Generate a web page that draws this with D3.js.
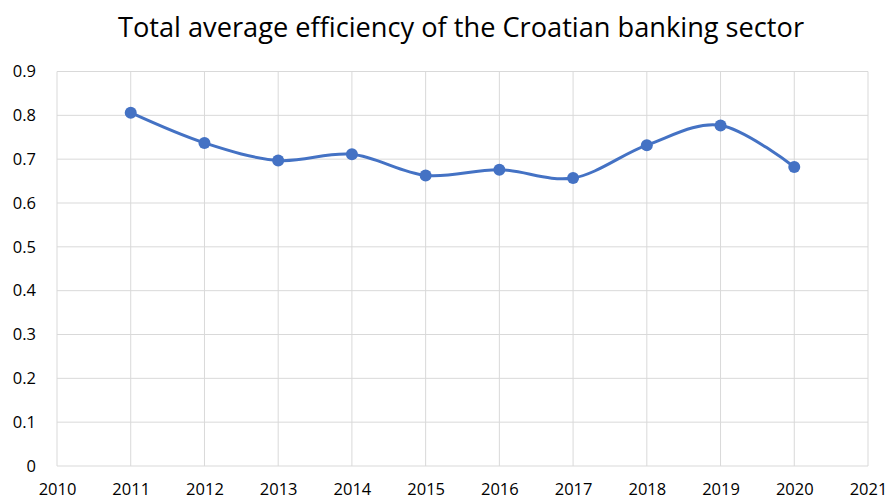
<!DOCTYPE html>
<html>
<head>
<meta charset="utf-8">
<script src="https://cdn.jsdelivr.net/npm/d3@7"></script>
<style>
  body { margin: 0; background: #fff; }
  svg { display: block; font-family: "Open Sans", "Noto Sans", sans-serif; }
</style>
</head>
<body>
<svg id="chart" width="894" height="503"></svg>
<script>
// data
const years = [2011, 2012, 2013, 2014, 2015, 2016, 2017, 2018, 2019, 2020];
const efficiency = [0.806, 0.737, 0.697, 0.711, 0.663, 0.676, 0.657, 0.732, 0.777, 0.682];
const xTicks = d3.range(2010, 2022);
const yTicks = [0, 0.1, 0.2, 0.3, 0.4, 0.5, 0.6, 0.7, 0.8, 0.9];

const svg = d3.select("#chart");
const margin = { left: 57, right: 26, top: 71.5, bottom: 37 };
const W = 894, H = 503;

const x = d3.scaleLinear().domain([2010, 2021]).range([margin.left, W - margin.right]);
const y = d3.scaleLinear().domain([0, 0.9]).range([H - margin.bottom, margin.top]);

// title
svg.append("text")
  .attr("x", W / 2 + 14).attr("y", 37)
  .attr("text-anchor", "middle")
  .attr("font-size", 27.2)
  .attr("fill", "#000")
  .text("Total average efficiency of the Croatian banking sector");

// gridlines
svg.append("g").selectAll("line.h").data(yTicks).enter().append("line")
  .attr("x1", x(2010)).attr("x2", x(2021))
  .attr("y1", d => y(d)).attr("y2", d => y(d))
  .attr("stroke", "#d9d9d9").attr("stroke-width", 1);

svg.append("g").selectAll("line.v").data(xTicks).enter().append("line")
  .attr("x1", d => x(d)).attr("x2", d => x(d))
  .attr("y1", y(0)).attr("y2", y(0.9))
  .attr("stroke", "#d9d9d9").attr("stroke-width", 1);

// axes (labels only)
const yAxis = svg.append("g")
  .attr("transform", `translate(${margin.left},0)`)
  .call(d3.axisLeft(y).tickValues(yTicks).tickSize(0).tickPadding(21)
    .tickFormat(d => d === 0 ? "0" : d3.format(".1f")(d)));
yAxis.select(".domain").remove();
yAxis.selectAll("text").attr("font-size", 16.5).attr("fill", "#000")
  .attr("font-family", "'Open Sans', sans-serif");

const xAxis = svg.append("g")
  .attr("transform", `translate(0,${y(0)})`)
  .call(d3.axisBottom(x).tickValues(xTicks).tickSize(0).tickPadding(17).tickFormat(d3.format("d")));
xAxis.select(".domain").remove();
xAxis.selectAll("text").attr("font-size", 16.5).attr("fill", "#000")
  .attr("font-family", "'Open Sans', sans-serif");

// smoothed line
const pts = years.map((yr, i) => [yr, efficiency[i]]);
const line = d3.line()
  .x(d => x(d[0])).y(d => y(d[1]))
  .curve(d3.curveCatmullRom.alpha(0));

svg.append("path")
  .datum(pts)
  .attr("d", line)
  .attr("fill", "none")
  .attr("stroke", "#4472c4")
  .attr("stroke-width", 3);

svg.append("g").selectAll("circle").data(pts).enter().append("circle")
  .attr("cx", d => x(d[0])).attr("cy", d => y(d[1]))
  .attr("r", 6)
  .attr("fill", "#4472c4");
</script>
</body>
</html>
